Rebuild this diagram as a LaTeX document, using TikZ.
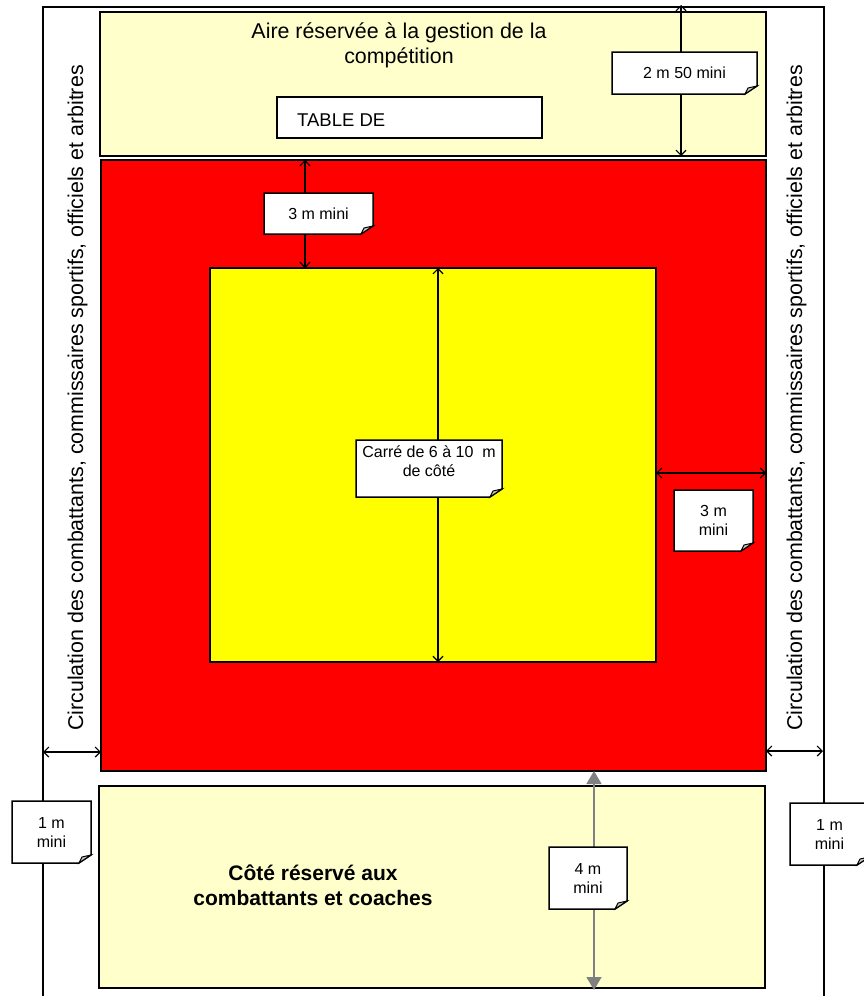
\documentclass[tikz,border=0pt]{standalone}
\usepackage{fontspec}
\setmainfont{Liberation Sans}
\usetikzlibrary{arrows.meta,calc}
\definecolor{pale}{HTML}{FFFFCC}
\definecolor{redzone}{HTML}{FF0000}
\definecolor{yelzone}{HTML}{FFFF00}
\definecolor{grayarrow}{HTML}{808080}
\tikzset{
  frame/.style={draw=black,line width=1.2pt},
  area/.style={draw=black,line width=1.8pt,inner sep=0pt,outer sep=0pt,anchor=north west},
  dim/.style={draw=black,line width=1.2pt,{Straight Barb[length=5pt,width=10pt]}-{Straight Barb[length=5pt,width=10pt]}},
  bigdim/.style={draw=grayarrow,line width=1.5pt,{Triangle[length=13pt,width=15pt]}-{Triangle[length=13pt,width=15pt]}},
  notebase/.style={inner sep=0pt,outer sep=0pt},
  noteline/.style={draw=black,line width=1.5pt,line join=miter,fill=white},
  flap/.style={draw=black,line width=1pt,fill=gray!45},
  notetext/.style={font=\fontsize{16}{19}\selectfont,align=center,inner sep=0pt},
  bigtext/.style={font=\fontsize{21.4}{25}\selectfont,align=center,inner sep=0pt},
  sidetext/.style={font=\fontsize{21.4}{25}\selectfont,inner sep=0pt,rotate=90,anchor=base},
}
\newcommand{\fnote}[6]{%
  \node[notebase,minimum width=#4pt,minimum height=#5pt] (#1) at (#2,#3) {};
  \draw[noteline] (#1.north west) -- (#1.north east) -- ([yshift=8pt]#1.south east)
     -- ([xshift=-12pt]#1.south east) -- (#1.south west) -- cycle;
  \draw[flap] ([yshift=8pt]#1.south east) -- ([xshift=-12pt]#1.south east)
     -- ([xshift=-9pt,yshift=6pt]#1.south east) -- cycle;
  \node[notetext] (#1t) at (#1) {#6};}
\begin{document}
\begin{tikzpicture}[x=1pt,y=-1pt]
\useasboundingbox (0,0) rectangle (863,996);
\fill[white] (0,0) rectangle (863,996);
% outer frame (open at the bottom)
\draw[frame] (43,1000) -- (43,7) -- (824,7) -- (824,1000);
\coordinate (fTop) at (681,5);
\coordinate (fL) at (43,752);
\coordinate (fR) at (823,751);
\coordinate (fB) at (594,990);
% zones
\node[area,fill=pale,minimum width=666pt,minimum height=144pt] (top) at (100,12) {};
\node[area,fill=redzone,minimum width=665pt,minimum height=611pt] (red) at (101,160) {};
\node[area,fill=yelzone,minimum width=446pt,minimum height=394pt] (yel) at (210,268) {};
\node[area,fill=pale,minimum width=666pt,minimum height=202pt] (bot) at (99,786) {};
\node[area,fill=white,line width=1.5pt,minimum width=265pt,minimum height=41pt] (table) at (277,97) {};
% texts
\node[bigtext] (toptext) at (399,45.5) {Aire réservée à la gestion de la\\compétition};
\node[font=\fontsize{18.5}{22}\selectfont,inner sep=0pt,anchor=base west] (tabletext) at (297,126) {TABLE DE};
\node[bigtext,font=\fontsize{21}{25}\selectfont\bfseries] (bottext) at (313,885.5) {Côté réservé aux\\combattants et coaches};
\node[sidetext] (sideL) at (83,398) {Circulation des combattants, commissaires sportifs, officiels et arbitres};
\node[sidetext] (sideR) at (802,398) {Circulation des combattants, commissaires sportifs, officiels et arbitres};
% dimension arrows
\draw[dim] (fTop) -- (fTop |- top.south);
\draw[dim] ([xshift=204pt]red.north west) -- ([xshift=95pt]yel.north west);
\draw[dim] ([xshift=228pt]yel.north west) -- ([xshift=228pt]yel.south west);
\coordinate (h1) at ([yshift=-8pt]yel.east);
\draw[dim] (h1) -- (h1 -| red.east);
\draw[dim] (fL) -- (fL -| red.west);
\draw[dim] (red.east |- fR) -- (fR);
\draw[bigdim] (red.south -| fB) -- (fB);
% notes
\fnote{n250}{684.5}{73}{145}{42}{2 m 50 mini}
\fnote{n3a}{318.5}{213.5}{109}{41}{3 m mini}
\node[notebase,minimum width=146pt,minimum height=57pt] (ncar) at (429,468.5) {};
\draw[noteline] (ncar.north west) -- (ncar.north east) -- ([yshift=8pt]ncar.south east)
   -- ([xshift=-12pt]ncar.south east) -- (ncar.south west) -- cycle;
\draw[flap] ([yshift=8pt]ncar.south east) -- ([xshift=-12pt]ncar.south east)
   -- ([xshift=-9pt,yshift=6pt]ncar.south east) -- cycle;
\node[notetext,anchor=north] (ncart) at (429,445.5) {Carré de 6 à 10~ m\\de côté};
\fnote{n3b}{713.5}{520.5}{79}{61}{3 m\\mini}
\fnote{n1l}{51.5}{832}{79}{62}{1 m\\mini}
\fnote{n1r}{829.5}{834}{79}{62}{1 m\\mini}
\fnote{n4}{588}{878}{78}{62}{4 m\\mini}
\end{tikzpicture}
\end{document}
